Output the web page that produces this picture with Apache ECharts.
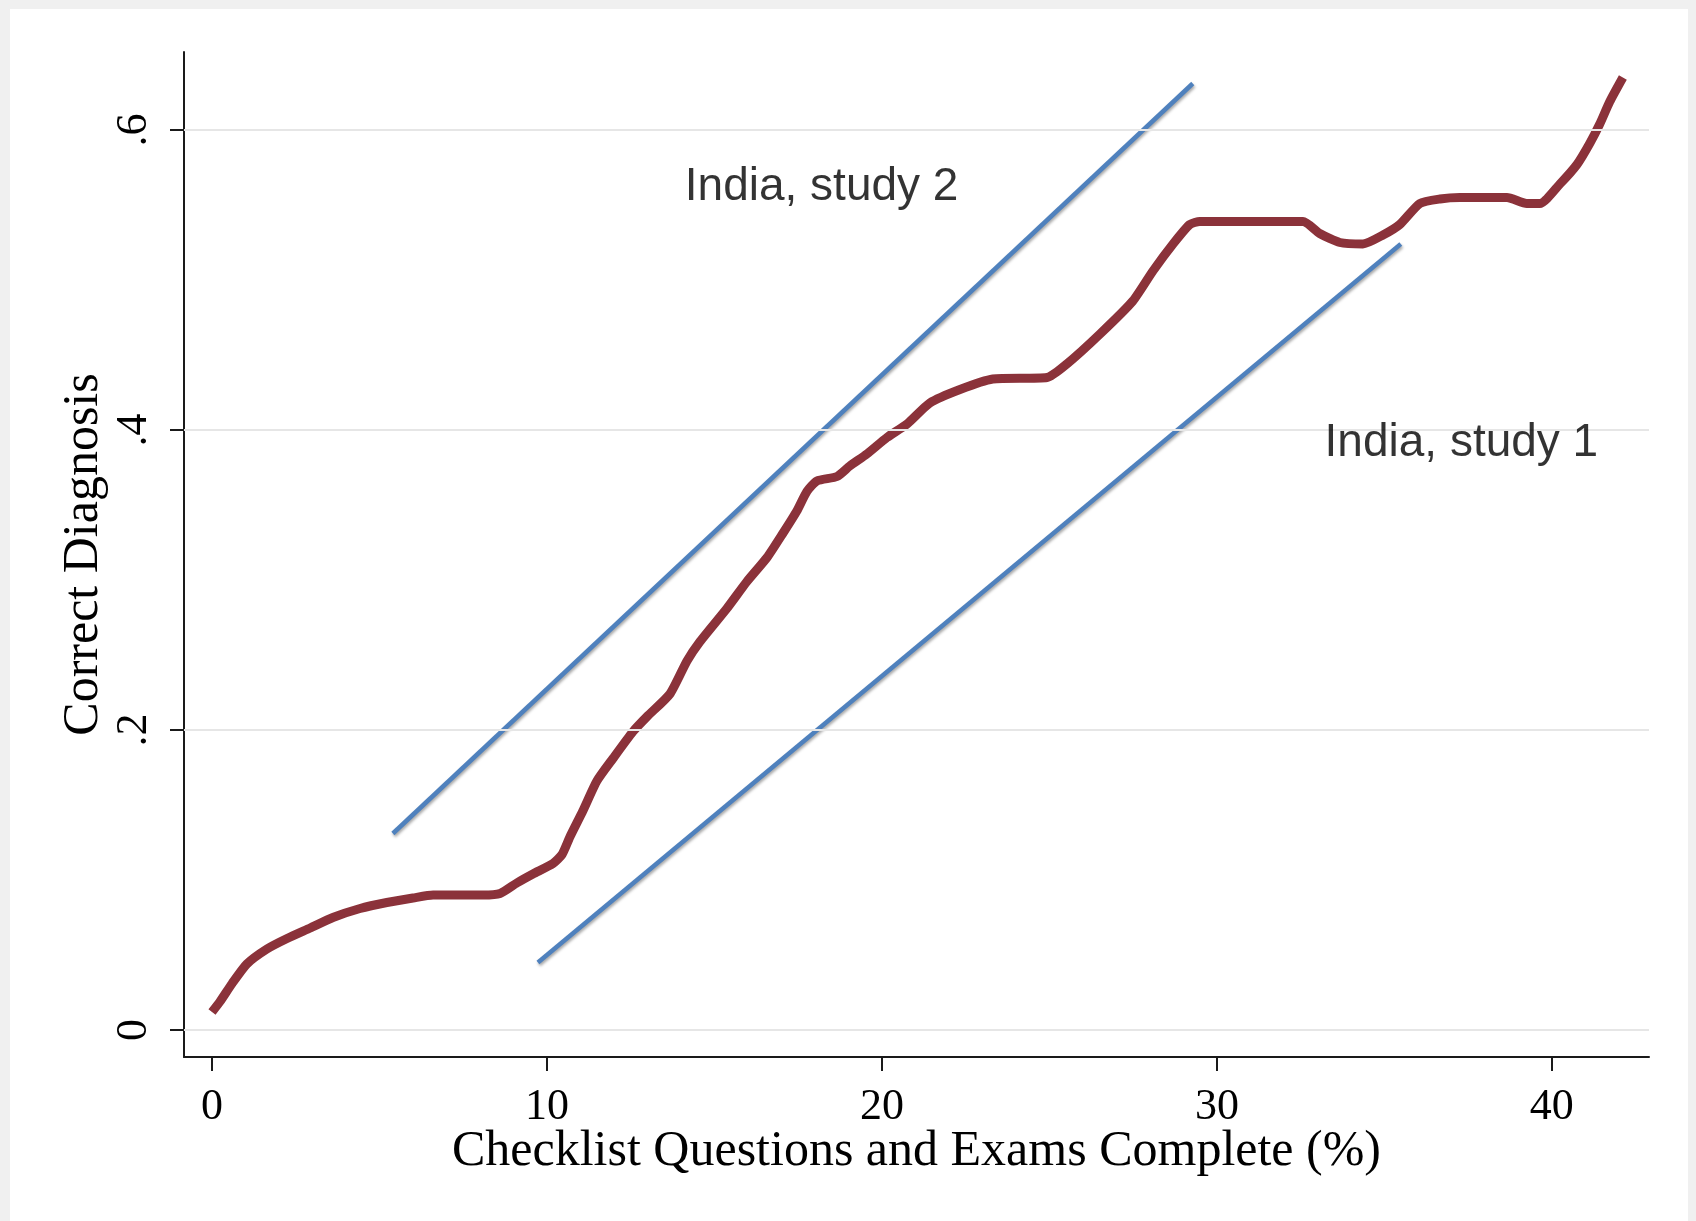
<!DOCTYPE html>
<html>
<head>
<meta charset="utf-8">
<script src="https://cdn.jsdelivr.net/npm/echarts@6/dist/echarts.min.js"></script>
<style>
  html, body { margin: 0; padding: 0; background: #f0f0f0; }
  #chart { position: absolute; left: 10px; top: 9px; width: 1678px; height: 1212px; background: #fff; }
</style>
</head>
<body>
<div id="chart"></div>
<script>
// lowess curve: correct diagnosis vs checklist completion
const curveX = [0, 0.24, 0.6, 1.04, 1.64, 2.24, 2.93, 3.61, 4.42, 5.22, 6.0, 6.6, 8.09, 8.6, 9.1, 9.58, 10.18, 10.45, 10.69, 11.07, 11.49, 11.97, 12.57, 12.99, 13.67, 14.18, 14.57, 15.37, 15.97, 16.57, 17.04, 17.46, 17.76, 18.06, 18.66, 19.04, 19.55, 20.15, 20.75, 21.43, 22.33, 23.31, 24.93, 25.52, 26.51, 27.49, 28.09, 28.69, 29.19, 29.49, 32.57, 33.07, 33.67, 34.36, 34.96, 35.46, 36.06, 36.66, 37.25, 38.66, 39.25, 39.64, 40.24, 40.75, 41.13, 41.43, 41.73, 42.12]
const curveY = [0.012, 0.019, 0.031, 0.044, 0.054, 0.061, 0.068, 0.075, 0.081, 0.085, 0.088, 0.090, 0.090, 0.091, 0.098, 0.104, 0.111, 0.117, 0.129, 0.146, 0.166, 0.181, 0.199, 0.209, 0.224, 0.246, 0.259, 0.281, 0.299, 0.315, 0.331, 0.346, 0.359, 0.366, 0.369, 0.376, 0.384, 0.395, 0.404, 0.418, 0.427, 0.434, 0.435, 0.444, 0.464, 0.486, 0.506, 0.524, 0.537, 0.539, 0.539, 0.531, 0.525, 0.524, 0.530, 0.537, 0.551, 0.554, 0.555, 0.555, 0.551, 0.551, 0.564, 0.577, 0.591, 0.604, 0.619, 0.635]

// straight reference lines for the two studies
const study2X = [5.40, 29.28]
const study2Y = [0.131, 0.631]
const study1X = [9.73, 35.49]
const study1Y = [0.045, 0.524]

const annoNames = ["India, study 2", "India, study 1"]
const annoX = [14.1, 33.2]
const annoY = [0.562, 0.391]

const xTicks = [0, 10, 20, 30, 40]
const yTicks = [0, 0.2, 0.4, 0.6]

const zip = (xs, ys) => xs.map((x, i) => [x, ys[i]])

const serif = "Liberation Serif"
const blueStyle = {
  color: "#4f81bd",
  width: 4.5,
  shadowColor: "rgba(0,0,0,0.35)",
  shadowBlur: 3,
  shadowOffsetX: 1,
  shadowOffsetY: 2,
}

let myChart = echarts.init(document.getElementById("chart"))
myChart.setOption({
  animation: false,
  grid: { left: 174, top: 43, width: 1465, height: 1005 },
  xAxis: {
    type: "value",
    min: -0.836,
    max: 42.9,
    splitLine: { show: false },
    axisLine: { show: true, onZero: false, lineStyle: { color: "#1a1a1a", width: 2 } },
    axisTick: { show: true, length: 14, customValues: xTicks, lineStyle: { color: "#1a1a1a", width: 2 } },
    axisLabel: { customValues: xTicks, fontFamily: serif, fontSize: 44, color: "#000", margin: 28 },
    name: "Checklist Questions and Exams Complete (%)",
    nameLocation: "middle",
    nameGap: 70,
    nameMoveOverlap: false,
    nameTextStyle: { fontFamily: serif, fontSize: 50, color: "#000" },
  },
  yAxis: {
    type: "value",
    min: -0.018,
    max: 0.652,
    splitLine: { show: false },
    axisLine: { show: true, onZero: false, lineStyle: { color: "#1a1a1a", width: 2 } },
    axisTick: { show: true, length: 14, customValues: yTicks, lineStyle: { color: "#1a1a1a", width: 2 } },
    axisLabel: {
      customValues: yTicks,
      rotate: 90,
      fontFamily: serif,
      fontSize: 44,
      color: "#000",
      margin: 28,
      formatter: (v) => (v === 0 ? "0" : String(v).replace(/^0/, "")),
    },
    name: "Correct Diagnosis",
    nameLocation: "middle",
    nameRotate: 90,
    nameGap: 75,
    nameMoveOverlap: false,
    nameTextStyle: { fontFamily: serif, fontSize: 50, color: "#000" },
  },
  series: [
    {
      type: "line",
      data: [],
      silent: true,
      markLine: {
        silent: true,
        symbol: "none",
        label: { show: false },
        lineStyle: { color: "#e6e6e6", width: 2, type: "solid" },
        data: yTicks.map((v) => ({ yAxis: v })),
      },
      z: 1,
    },
    {
      type: "line",
      data: zip(study2X, study2Y),
      showSymbol: false,
      lineStyle: blueStyle,
      z: 3,
    },
    {
      type: "line",
      data: zip(study1X, study1Y),
      showSymbol: false,
      lineStyle: blueStyle,
      z: 3,
    },
    {
      type: "line",
      data: zip(curveX, curveY),
      showSymbol: false,
      smooth: 0.2,
      lineStyle: { color: "#8b323a", width: 9 },
      z: 4,
    },
    {
      type: "scatter",
      symbolSize: 1,
      itemStyle: { color: "rgba(0,0,0,0)" },
      data: annoX.map((x, i) => ({ value: [x, annoY[i]], name: annoNames[i] })),
      label: {
        show: true,
        position: "right",
        distance: 0,
        formatter: (p) => p.name,
        fontFamily: "Liberation Sans",
        fontSize: 46,
        color: "#000",
      },
      z: 5,
    },
  ],
})
</script>
</body>
</html>
